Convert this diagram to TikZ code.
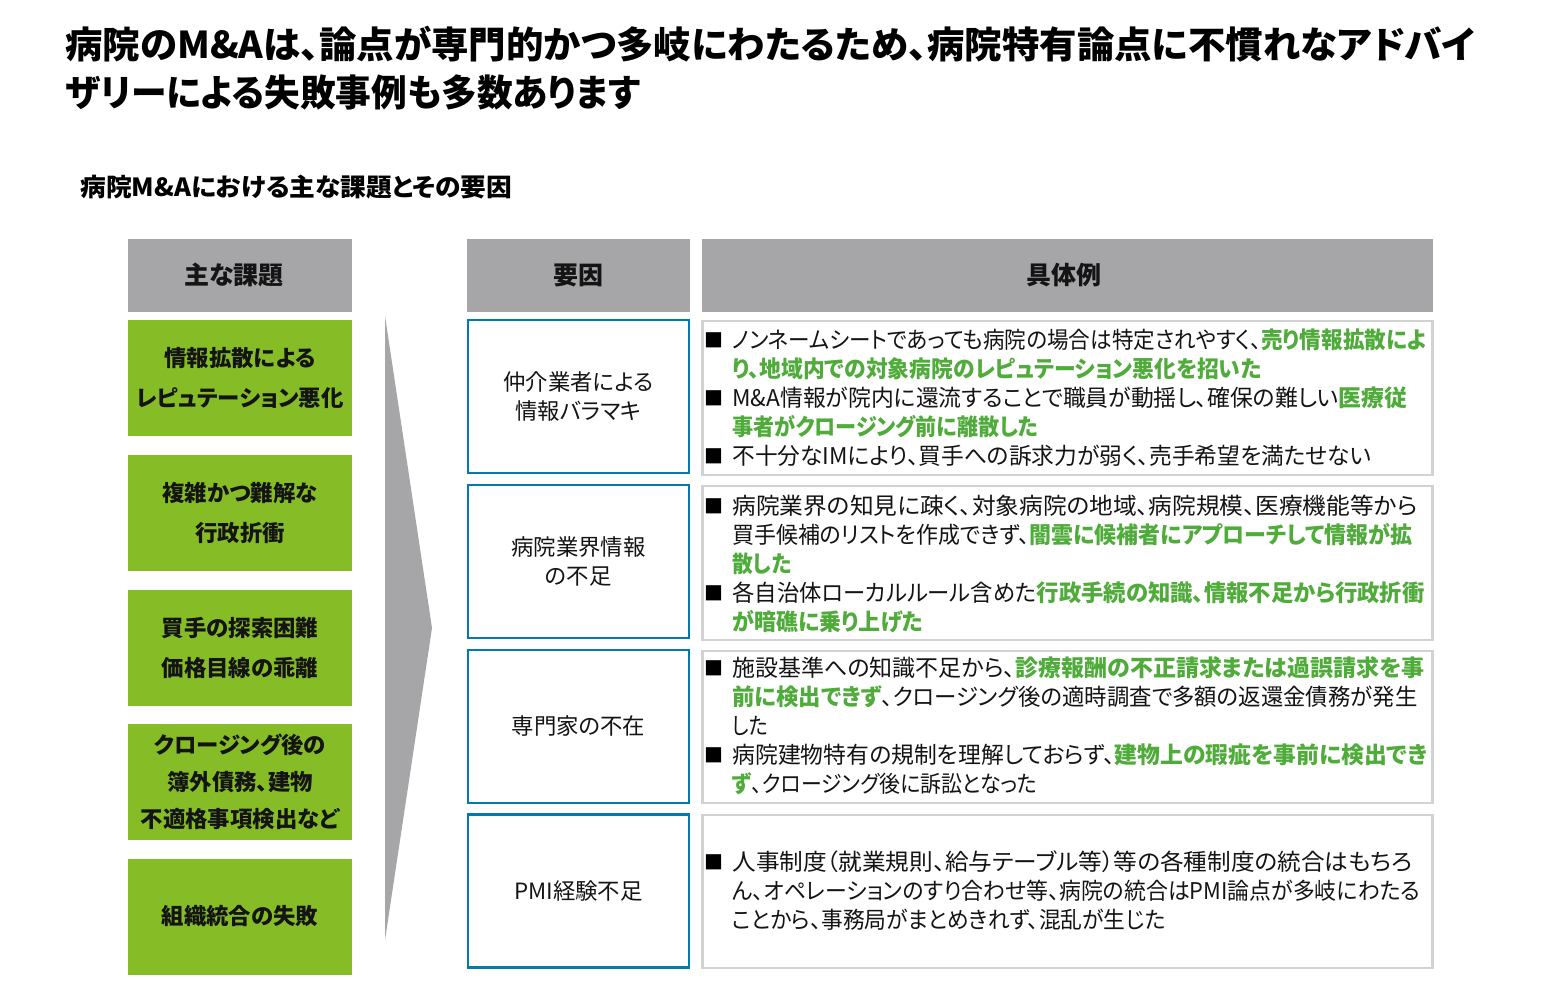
\documentclass[tikz,border=0pt]{standalone}
\usepackage{graphicx}
\usepackage{fontspec}
\setmainfont{Noto Sans CJK JP}[RawFeature=+palt]
\definecolor{hdrgrey}{RGB}{166,166,168}
\definecolor{boxgreen}{RGB}{134,188,37}
\definecolor{boxblue}{RGB}{0,122,175}
\definecolor{linegrey}{RGB}{210,210,210}
\definecolor{txtgreen}{RGB}{80,172,58}
\definecolor{txtdark}{RGB}{20,20,20}
\newcommand{\grn}[1]{{\bfseries\color{txtgreen}#1}}
\tikzset{
  hdr/.style={fill=hdrgrey, draw=none, inner sep=0pt, font=\fontsize{12.5}{15}\selectfont\bfseries, text=txtdark},
  gbox/.style={fill=boxgreen, draw=none, inner sep=0pt, align=center, text=txtdark, font=\fontsize{11.2}{20}\selectfont\bfseries},
  cbox/.style={fill=white, draw=boxblue, line width=1.2pt, inner sep=0pt, align=center, text=txtdark, font=\fontsize{11.2}{14.5}\selectfont},
  ebox/.style={fill=white, draw=linegrey, line width=1.3pt, inner sep=0pt},
  bodytxt/.style={anchor=west, inner sep=0pt, text=txtdark, font=\fontsize{11.5}{13}\selectfont},
  bul/.style={anchor=center, inner sep=0pt, text=black, font=\fontsize{9.5}{11}\selectfont},
  ttl/.style={anchor=west, inner sep=0pt, text=black, font=\fontsize{18.5}{22}\selectfont\bfseries},
}
\newcommand{\txl}[4]{\node[bodytxt] (#1) at (732,#2) {\resizebox{#3pt}{\height}{#4}};}
\newcommand{\bu}[2]{\node[bul] (#1) at (713.5,#2) {■};}
\begin{document}
\begin{tikzpicture}[x=0.5pt,y=-0.5pt]
\useasboundingbox (0,0) rectangle (1547,999);
\fill[white] (0,0) rectangle (1547,999);
% title
\node[ttl] (title1) at (65,44) {\resizebox{705pt}{\height}{病院のM\&Aは、論点が専門的かつ多岐にわたるため、病院特有論点に不慣れなアドバイ}};
\node[ttl] (title2) at (65,92) {\resizebox{287.5pt}{\height}{ザリーによる失敗事例も多数あります}};
\node[anchor=west, inner sep=0pt, font=\fontsize{12.5}{15}\selectfont\bfseries] (subtitle) at (80,187) {\resizebox{216pt}{\height}{病院M\&Aにおける主な課題とその要因}};
% headers
\node[hdr, minimum width=112pt, minimum height=36.5pt] (h1) at (240,275.5) {\hspace*{-6pt}主な課題};
\node[hdr, minimum width=111.5pt, minimum height=36.5pt] (h2) at (578.5,275.5) {要因};
\node[hdr, minimum width=365.5pt, minimum height=36.5pt] (h3) at (1067.5,275.5) {\hspace*{-4pt}具体例};
% arrow
\fill[hdrgrey] (385,316) -- (432,628) -- (385,940) -- cycle;
% green boxes
\node[gbox, minimum width=112pt, minimum height=58pt] (g1) at (240,378) {情報拡散による\\レピュテーション悪化};
\node[gbox, minimum width=112pt, minimum height=58pt] (g2) at (240,513) {複雑かつ難解な\\行政折衝};
\node[gbox, minimum width=112pt, minimum height=58pt] (g3) at (240,648) {買手の探索困難\\価格目線の乖離};
\node[gbox, minimum width=112pt, minimum height=58pt, font=\fontsize{11.2}{18.5}\selectfont\bfseries] (g4) at (240,782) {クロージング後の\\簿外債務、建物\\不適格事項検出など};
\node[gbox, minimum width=112pt, minimum height=58pt] (g5) at (240,916.5) {組織統合の失敗};
% cause boxes
\node[cbox, minimum width=110.5pt, minimum height=76.5pt] (c1) at (578.5,396.5) {仲介業者による\\情報バラマキ};
\node[cbox, minimum width=110.5pt, minimum height=76.5pt] (c2) at (578.5,561.5) {病院業界情報\\の不足};
\node[cbox, minimum width=110.5pt, minimum height=76.5pt] (c3) at (578.5,726.5) {専門家の不在};
\node[cbox, minimum width=110.5pt, minimum height=76.5pt] (c4) at (578.5,891) {PMI経験不足};
% example boxes
\node[ebox, minimum width=365pt, minimum height=77pt] (e1) at (1067.5,398) {};
\node[ebox, minimum width=365pt, minimum height=77pt] (e2) at (1067.5,563) {};
\node[ebox, minimum width=365pt, minimum height=76pt] (e3) at (1067.5,727) {};
\node[ebox, minimum width=365pt, minimum height=76.5pt] (e4) at (1067.5,891.5) {};
% box 1 text
\bu{bu1}{340}
\txl{t11}{340}{347}{ノンネームシートであっても病院の場合は特定されやすく、\grn{売り情報拡散によ}}
\txl{t12}{369}{264.5}{\grn{り、地域内での対象病院のレピュテーション悪化を招いた}}
\bu{bu2}{398}
\txl{t13}{398}{337.5}{M\&A情報が院内に還流することで職員が動揺し、確保の難しい\grn{医療従}}
\txl{t14}{427}{153}{\grn{事者がクロージング前に離散した}}
\bu{bu3}{456}
\txl{t15}{456}{319.5}{不十分なIMにより、買手への訴求力が弱く、売手希望を満たせない}
% box 2 text
\bu{bu4}{506}
\txl{t21}{506}{342.5}{病院業界の知見に疎く、対象病院の地域、病院規模、医療機能等から}
\txl{t22}{535}{340}{買手候補のリストを作成できず、\grn{闇雲に候補者にアプローチして情報が拡}}
\txl{t23}{564}{29.5}{\grn{散した}}
\bu{bu5}{593}
\txl{t24}{593}{346}{各自治体ローカルルール含めた\grn{行政手続の知識、情報不足から行政折衝}}
\txl{t25}{622}{95.5}{\grn{が暗礁に乗り上げた}}
% box 3 text
\bu{bu6}{668}
\txl{t31}{668}{346}{施設基準への知識不足から、\grn{診療報酬の不正請求または過誤請求を事}}
\txl{t32}{697}{342.5}{\grn{前に検出できず}、クロージング後の適時調査で多額の返還金債務が発生}
\txl{t33}{726}{18}{した}
\bu{bu7}{755}
\txl{t34}{755}{347.5}{病院建物特有の規制を理解しておらず、\grn{建物上の瑕疵を事前に検出でき}}
\txl{t35}{784}{152.5}{\grn{ず}、クロージング後に訴訟となった}
% box 4 text
\bu{bu8}{862}
\txl{t41}{862}{340}{人事制度（就業規則、給与テーブル等）等の各種制度の統合はもちろ}
\txl{t42}{891}{344}{ん、オペレーションのすり合わせ等、病院の統合はPMI論点が多岐にわたる}
\txl{t43}{920}{216.5}{ことから、事務局がまとめきれず、混乱が生じた}
\end{tikzpicture}
\end{document}
